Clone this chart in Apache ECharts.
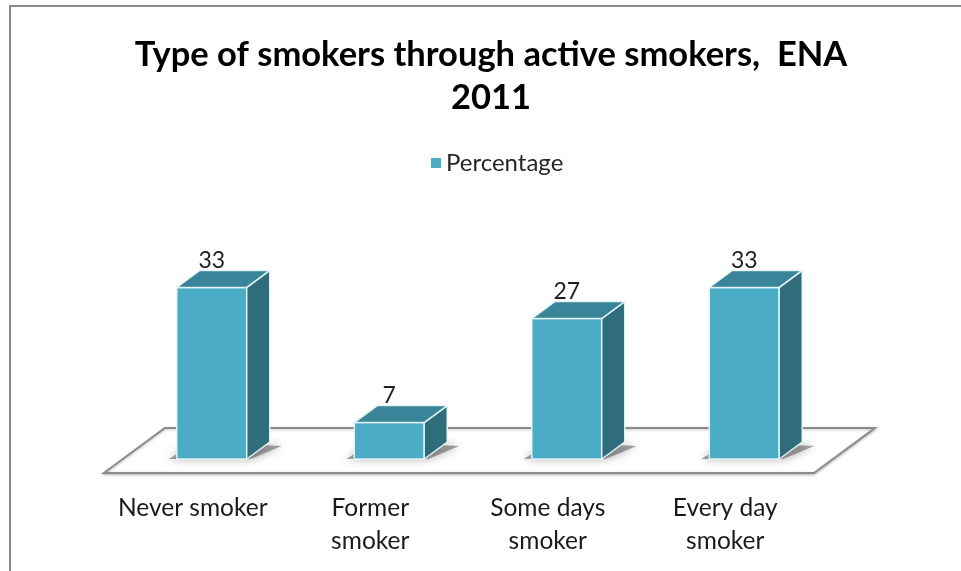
<!DOCTYPE html>
<html>
<head>
<meta charset="utf-8">
<title>Type of smokers through active smokers, ENA 2011</title>
<script src="https://cdn.jsdelivr.net/npm/echarts@6/dist/echarts.min.js"></script>
<style>
  html, body { margin: 0; padding: 0; background: #ffffff; }
  #chart { width: 961px; height: 571px; }
</style>
</head>
<body>
<div id="chart"></div>
<script>
// Survey categories and their shares (%)
const categories = ['Never smoker', 'Former\nsmoker', 'Some days\nsmoker', 'Every day\nsmoker'];
const percentages = [33, 7, 27, 33];
const seriesName = 'Percentage';
const chartTitle = 'Type of smokers through active smokers,  ENA\n2011';

// Pseudo-3D look
const FONT = 'Lato';
const FRONT = '#4BACC6';
const TOP = '#3A8499';
const SIDE = '#2F6C7C';
const EDGE = 'rgba(235,248,252,0.9)';
const FLOOR_DEPTH = [61, -45];   // floor front edge -> back edge
const BAR_OFFSET = [19, -14];    // floor front edge -> bar front face
const BAR_DEPTH = [23, -17];     // bar front face -> bar back face
const BAR_RATIO = 0.394;         // bar width / category band

const chart = echarts.init(document.getElementById('chart'), null, { renderer: 'canvas' });

function renderFloor(params) {
  const cs = params.coordSys;
  const fx0 = cs.x, fx1 = cs.x + cs.width, fy = cs.y + cs.height;
  const [ddx, ddy] = FLOOR_DEPTH;
  return {
    type: 'polygon',
    shape: { points: [[fx0, fy], [fx1, fy], [fx1 + ddx, fy + ddy], [fx0 + ddx, fy + ddy]] },
    style: { fill: '#ffffff', stroke: '#8c8c8c', lineWidth: 2,
             shadowBlur: 3, shadowColor: 'rgba(0,0,0,0.25)', shadowOffsetY: 1 },
    silent: true
  };
}

function renderBar(params, api) {
  const idx = api.value(0);
  const val = api.value(1);
  const base = api.coord([idx, 0]);
  const head = api.coord([idx, val]);
  const band = api.size([1, 0])[0];
  const w = band * BAR_RATIO;
  const x0 = base[0] + BAR_OFFSET[0] - w / 2;
  const x1 = x0 + w;
  const yb = base[1] + BAR_OFFSET[1];
  const yt = head[1] + BAR_OFFSET[1];
  const [dx, dy] = BAR_DEPTH;
  return {
    type: 'group',
    children: [
      { // soft contact shadow on the floor
        type: 'polygon',
        shape: { points: [[x0 - 8, yb], [x1 + 4, yb], [x1 + dx + 12, yb + dy + 4], [x0 + dx - 4, yb + dy]] },
        style: { fill: 'rgba(90,90,90,0.55)', shadowBlur: 10, shadowColor: 'rgba(0,0,0,0.6)' },
        silent: true
      },
      { // front face
        type: 'rect',
        shape: { x: x0, y: yt, width: w, height: yb - yt },
        style: { fill: FRONT, stroke: EDGE, lineWidth: 1.5 }
      },
      { // right side face
        type: 'polygon',
        shape: { points: [[x1, yb], [x1 + dx, yb + dy], [x1 + dx, yt + dy], [x1, yt]] },
        style: { fill: SIDE, stroke: EDGE, lineWidth: 1.5 }
      },
      { // top face
        type: 'polygon',
        shape: { points: [[x0, yt], [x1, yt], [x1 + dx, yt + dy], [x0 + dx, yt + dy]] },
        style: { fill: TOP, stroke: EDGE, lineWidth: 1.5 }
      },
      { // value label
        type: 'text',
        style: {
          text: String(val), x: x0 + w / 2, y: yt - 27,
          align: 'center', verticalAlign: 'middle',
          fill: '#1f1f1f', font: '23px ' + FONT
        }
      }
    ]
  };
}

chart.setOption({
  animation: false,
  backgroundColor: '#ffffff',
  title: {
    text: chartTitle,
    left: 486,
    textAlign: 'center',
    top: 28,
    textStyle: { fontFamily: FONT, fontSize: 34.5, fontWeight: 'bold', color: '#000000', lineHeight: 43 }
  },
  legend: {
    data: [seriesName],
    left: 426,
    top: 146,
    icon: 'rect',
    itemWidth: 10,
    itemHeight: 10,
    itemGap: 10,
    textStyle: { fontFamily: FONT, fontSize: 24, color: '#262626' }
  },
  grid: { left: 104, right: 147, top: 265, bottom: 98 },
  xAxis: {
    type: 'category',
    data: categories,
    axisLine: { show: false },
    axisTick: { show: false },
    splitLine: { show: false },
    axisLabel: { margin: 19, fontFamily: FONT, fontSize: 24.5, lineHeight: 33, color: '#1a1a1a', interval: 0 }
  },
  yAxis: {
    type: 'value',
    min: 0,
    max: 40,
    show: false
  },
  graphic: [{
    type: 'polyline',
    shape: { points: [[10, 571], [10, 6], [961, 6]] },
    style: { stroke: '#8a8a8a', lineWidth: 2, fill: null },
    silent: true,
    z: 10
  }],
  series: [
    {
      type: 'custom',
      name: 'floor',
      renderItem: renderFloor,
      data: [[0, 0]],
      silent: true,
      z: 1
    },
    {
      type: 'custom',
      name: seriesName,
      itemStyle: { color: FRONT },
      renderItem: renderBar,
      encode: { x: 0, y: 1 },
      data: percentages.map((v, i) => [i, v]),
      z: 2
    }
  ]
});
</script>
</body>
</html>
